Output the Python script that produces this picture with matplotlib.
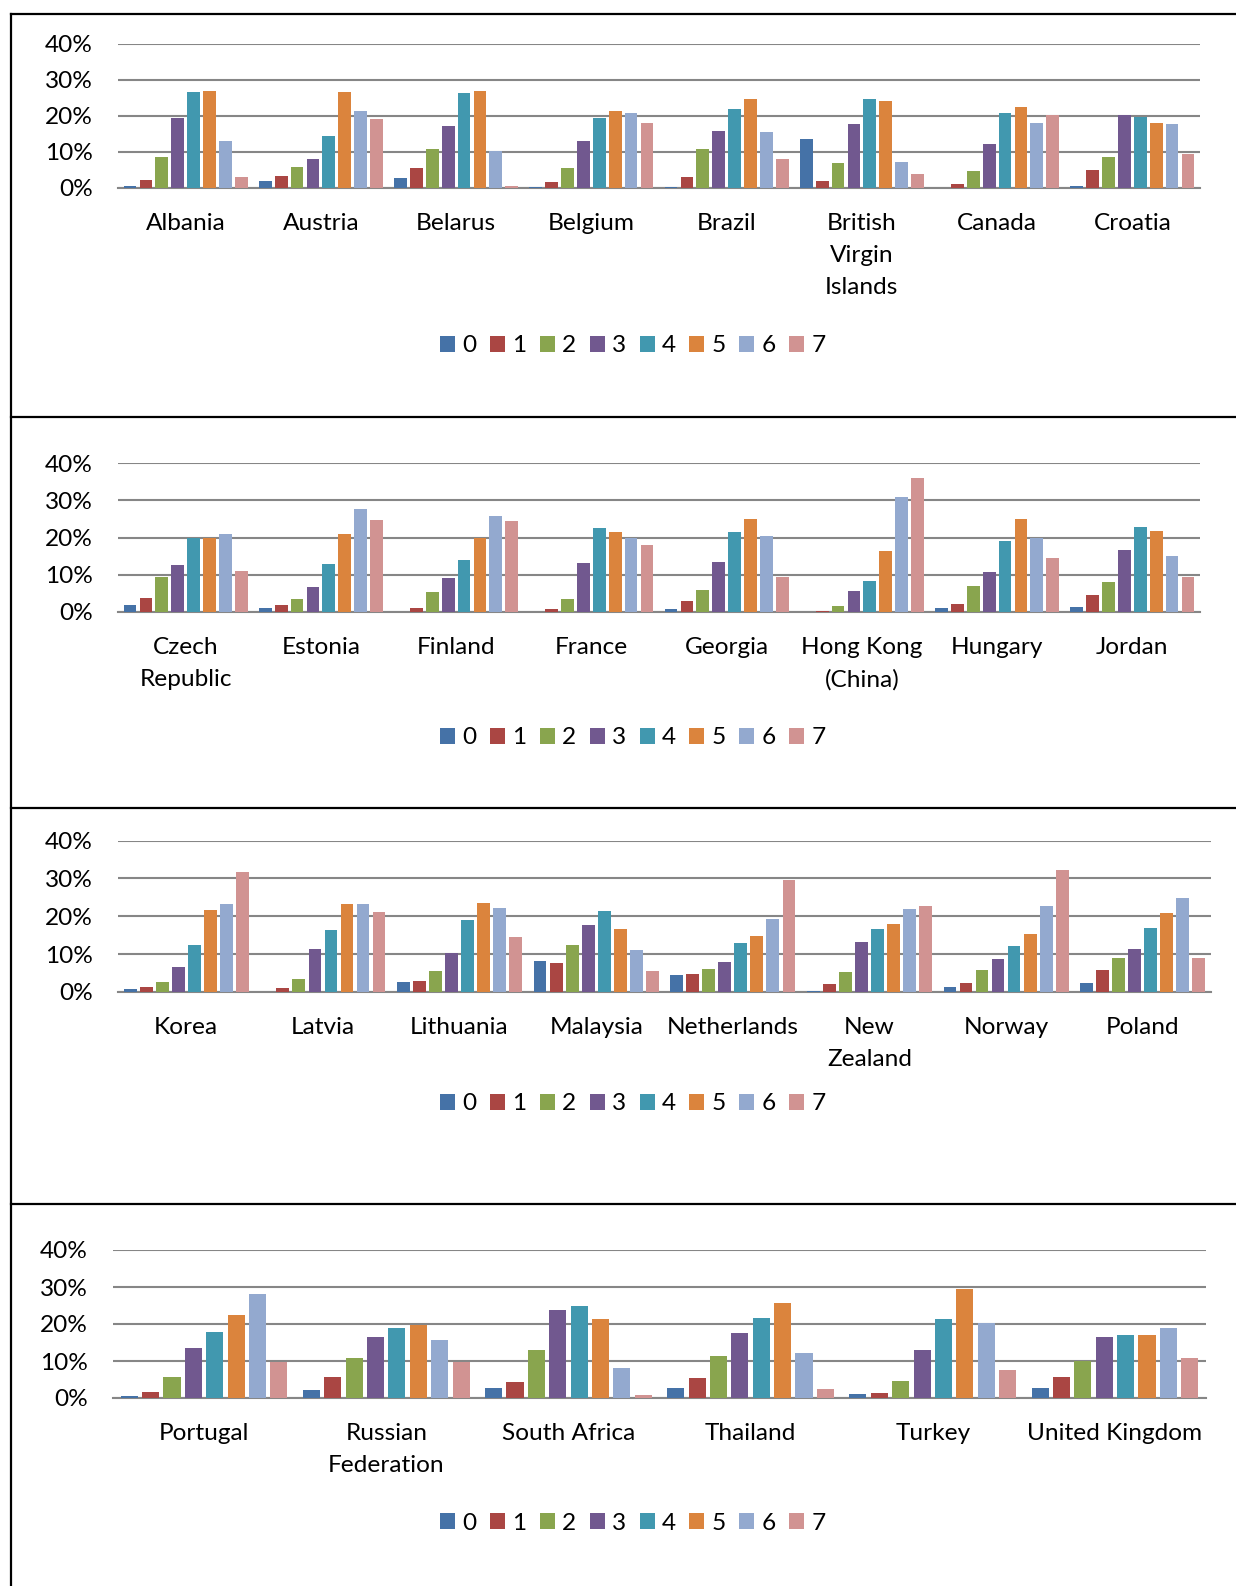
import matplotlib
matplotlib.use('Agg')
import matplotlib.pyplot as plt
from matplotlib.lines import Line2D
import numpy as np

plt.rcParams['font.family'] = ['Lato', 'DejaVu Sans']

# series 0..7 (share of students), in %
series_names = ['0', '1', '2', '3', '4', '5', '6', '7']
colors = ['#4572A7', '#AA4643', '#89A54E', '#71588F',
          '#4198AF', '#DB843D', '#93A9CF', '#D19392']

# panel 1
countries1 = ['Albania', 'Austria', 'Belarus', 'Belgium', 'Brazil',
              'British\nVirgin\nIslands', 'Canada', 'Croatia']
values1 = [
    [0.6, 2.1, 8.5, 19.4, 26.7, 26.8, 13.1, 3.1],   # Albania
    [1.9, 3.3, 5.9, 8.1, 14.5, 26.5, 21.2, 19.2],   # Austria
    [2.9, 5.5, 10.9, 17.3, 26.2, 26.8, 10.2, 0.6],  # Belarus
    [0.4, 1.7, 5.4, 13.1, 19.5, 21.2, 20.8, 18.0],  # Belgium
    [0.4, 3.1, 10.8, 15.7, 21.9, 24.7, 15.6, 7.9],  # Brazil
    [13.7, 1.9, 6.8, 17.8, 24.7, 24.2, 7.1, 3.9],   # BVI
    [0.0, 1.1, 4.7, 12.2, 20.8, 22.5, 18.1, 20.1],  # Canada
    [0.6, 4.9, 8.7, 20.3, 19.7, 18.1, 17.8, 9.4],   # Croatia
]

# panel 2
countries2 = ['Czech\nRepublic', 'Estonia', 'Finland', 'France', 'Georgia',
              'Hong Kong\n(China)', 'Hungary', 'Jordan']
values2 = [
    [2.0, 3.8, 9.3, 12.6, 19.9, 20.0, 20.9, 10.9],
    [1.0, 1.8, 3.4, 6.7, 13.0, 20.9, 27.7, 24.6],
    [0.0, 1.0, 5.4, 9.1, 13.9, 19.8, 25.8, 24.4],
    [0.0, 0.7, 3.6, 13.1, 22.5, 21.5, 19.9, 18.1],
    [0.8, 2.9, 5.9, 13.5, 21.4, 25.0, 20.5, 9.3],
    [0.0, 0.4, 1.5, 5.7, 8.3, 16.4, 31.0, 36.1],
    [1.0, 2.2, 7.1, 10.8, 19.0, 25.1, 19.8, 14.5],
    [1.3, 4.5, 8.1, 16.7, 22.7, 21.8, 15.1, 9.4],
]

# panel 3
countries3 = ['Korea', 'Latvia', 'Lithuania', 'Malaysia', 'Netherlands',
              'New\nZealand', 'Norway', 'Poland']
values3 = [
    [0.7, 1.4, 2.6, 6.7, 12.3, 21.7, 23.3, 31.6],
    [0.0, 1.1, 3.5, 11.4, 16.4, 23.3, 23.3, 21.1],
    [2.6, 2.9, 5.6, 10.2, 18.9, 23.6, 22.3, 14.5],
    [8.2, 7.6, 12.5, 17.6, 21.3, 16.6, 11.0, 5.5],
    [4.5, 4.8, 6.2, 7.8, 13.0, 14.9, 19.4, 29.5],
    [0.2, 2.1, 5.4, 13.2, 16.6, 18.0, 22.0, 22.6],
    [1.3, 2.3, 5.8, 8.6, 12.2, 15.2, 22.6, 32.3],
    [2.3, 5.9, 9.1, 11.4, 17.0, 20.9, 24.8, 9.1],
]

# panel 4
countries4 = ['Portugal', 'Russian\nFederation', 'South Africa', 'Thailand',
              'Turkey', 'United Kingdom']
values4 = [
    [0.5, 1.5, 5.6, 13.5, 17.9, 22.5, 28.0, 9.7],
    [2.2, 5.6, 10.9, 16.4, 18.9, 19.8, 15.6, 9.7],
    [2.8, 4.3, 12.9, 23.8, 24.8, 21.4, 8.2, 0.8],
    [2.6, 5.3, 11.3, 17.6, 21.6, 25.8, 12.2, 2.4],
    [1.0, 1.4, 4.7, 13.1, 21.4, 29.5, 20.4, 7.5],
    [2.8, 5.8, 10.0, 16.5, 17.1, 16.9, 19.0, 10.7],
]

W, H = 1236, 1586
fig = plt.figure(figsize=(W / 100, H / 100), dpi=100)

FS = 17.6
GRID = '#868686'

# axes boxes in pixels: left, right, top, bottom ; legend y
panels = [
    (countries1, values1, (118, 1200, 43.5, 188), 346),
    (countries2, values2, (118, 1200, 463, 612), 738),
    (countries3, values3, (118, 1211, 840.5, 992), 1104),
    (countries4, values4, (113, 1206, 1250, 1398), 1523),
]

for cats, vals, (l, r, t, b), leg_y in panels:
    ax = fig.add_axes([l / W, 1 - b / H, (r - l) / W, (b - t) / H])
    data = np.array(vals) / 100.0
    n = len(cats)
    x = np.arange(n)
    pitch = 0.1174
    for j in range(8):
        ax.bar(x + (j - 3.5) * pitch, data[:, j], width=pitch * 0.8,
               color=colors[j], linewidth=0,
               label=series_names[j], zorder=5)
    ax.set_xlim(-0.5, n - 0.5)
    ax.set_ylim(0, 0.4)
    ax.set_yticks([0, 0.1, 0.2, 0.3, 0.4])
    ax.set_yticklabels(['0%', '10%', '20%', '30%', '40%'])
    ax.set_xticks(x)
    ax.set_xticklabels(cats, linespacing=1.65)
    ax.tick_params(axis='both', length=0, labelsize=FS, colors='black')
    ax.tick_params(axis='y', pad=18)
    ax.tick_params(axis='x', pad=18)
    ax.grid(axis='y', color=GRID, linewidth=1.5, zorder=0)
    ax.set_axisbelow(True)
    for s in ['top', 'right', 'left']:
        ax.spines[s].set_visible(False)
    ax.spines['bottom'].set_color(GRID)
    ax.spines['bottom'].set_linewidth(1.5)
    ax.spines['bottom'].set_zorder(4)

    fig.legend(*ax.get_legend_handles_labels(), loc='center',
               bbox_to_anchor=(633 / W, 1 - leg_y / H), ncol=8, frameon=False,
               fontsize=FS, handlelength=0.61, handleheight=0.61,
               handletextpad=0.3, columnspacing=0.55, borderaxespad=0)

# frame lines around the panels
lw = 1.6
fig.add_artist(Line2D([11 / W, 11 / W], [0, 1 - 14 / H], color='black', lw=lw))
for yy in [14, 416.7, 808, 1203.7]:
    fig.add_artist(Line2D([11 / W, 1], [1 - yy / H, 1 - yy / H], color='black', lw=lw))

fig.savefig('out.png', dpi=100)
